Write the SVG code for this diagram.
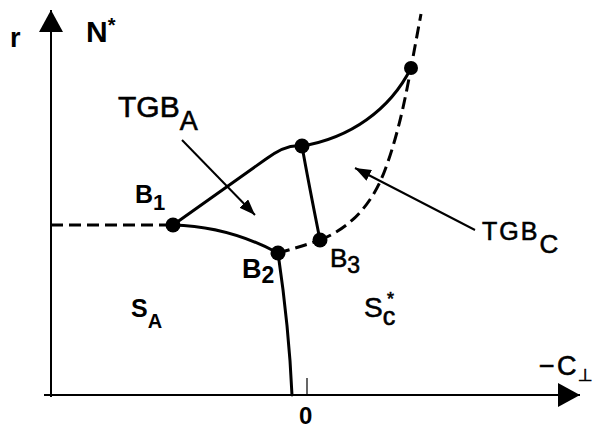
<svg xmlns="http://www.w3.org/2000/svg" width="595" height="428" viewBox="0 0 595 428">
<style>
text{font-family:"Liberation Sans",Arial,"DejaVu Sans",sans-serif;fill:#000}
.b{font-weight:bold}
.r{stroke:#000;stroke-width:0.6}
.solid{fill:none;stroke:#000;stroke-width:3;stroke-linecap:round}
.dash{fill:none;stroke:#000;stroke-width:3;stroke-dasharray:12 6}
.thin{fill:none;stroke:#000;stroke-width:2}
.dot{fill:#000}
</style>
<defs>
<marker id="ah" markerUnits="userSpaceOnUse" viewBox="0 0 16 12" refX="16" refY="6" markerWidth="16" markerHeight="12" orient="auto">
<path d="M0,0 L16,6 L0,12 Z" fill="#000"/>
</marker>
<marker id="axh" markerUnits="userSpaceOnUse" viewBox="0 0 22 24" refX="22" refY="12" markerWidth="22" markerHeight="24" orient="auto">
<path d="M0,0 L22,12 L0,24 Z" fill="#000"/>
</marker>
</defs>
<g id="axes">
<line class="thin" x1="51" y1="397" x2="51" y2="10" marker-end="url(#axh)"/>
<line class="thin" x1="44" y1="395" x2="580" y2="395" marker-end="url(#axh)"/>
<line x1="307" y1="378" x2="307" y2="395" stroke="#000" stroke-width="1.2"/>
<text class="b" x="10" y="47" font-size="27">r</text>
<text class="b" x="86" y="42" font-size="30">N<tspan font-size="20" dy="-10">*</tspan></text>
<text class="b" x="299" y="424" font-size="24">0</text>
<text class="r" x="539" y="375" font-size="27">−</text>
<text class="r" x="557" y="375" font-size="27">C</text>
<text class="r" x="578" y="381" font-size="17">⊥</text>
</g>
<g id="connectors">
<path class="dash" d="M51,225 L173,225"/>
<path class="solid" d="M173,225 L266,159 C278,150 290,144 302,146"/>
<path class="solid" d="M302,146 C350,138 390,110 411,68"/>
<path class="solid" d="M302,146 C308,180 314,210 320,240"/>
<path class="solid" d="M173,225 C215,226 250,238 278,253"/>
<path class="dash" d="M278,253 C292,249 306,245 320,240"/>
<path class="dash" d="M320,240 C350,228 372,205 385,170 C398,135 405,100 411,68 L421,14"/>
<path class="solid" d="M278,253 C285,300 290,350 292,395"/>
<line class="thin" x1="182" y1="140" x2="255" y2="215" marker-end="url(#ah)"/>
<line class="thin" x1="475" y1="230" x2="355" y2="168" marker-end="url(#ah)"/>
</g>
<g id="B1"><circle class="dot" cx="173" cy="225" r="7.5"/><text class="b" x="135" y="203" font-size="25">B<tspan font-size="22" dy="7">1</tspan></text></g>
<g id="B2"><circle class="dot" cx="278" cy="253" r="7.5"/><text class="b" x="242" y="278" font-size="27">B<tspan font-size="23" dy="5">2</tspan></text></g>
<g id="B3"><circle class="dot" cx="320" cy="240" r="7.5"/><text class="r" x="330" y="267" font-size="26">B<tspan font-size="23" dy="6">3</tspan></text></g>
<g id="Ntop"><circle class="dot" cx="302" cy="146" r="7.5"/></g>
<g id="Nright"><circle class="dot" cx="411" cy="68" r="7"/></g>
<g id="TGBA"><text class="r" x="118" y="117" font-size="30">TGB<tspan font-size="27" dy="13">A</tspan></text></g>
<g id="TGBC"><text class="r" x="482" y="240" font-size="25" letter-spacing="2">TGB<tspan font-size="26" dy="13" letter-spacing="0">C</tspan></text></g>
<g id="SA"><text class="b" x="131" y="317" font-size="25">S<tspan font-size="20" dy="11">A</tspan></text></g>
<g id="SC"><text class="r" x="364" y="317" font-size="28">S<tspan font-size="25" dy="8">c</tspan></text><text class="r" x="387" y="305" font-size="18">*</text></g>
</svg>
